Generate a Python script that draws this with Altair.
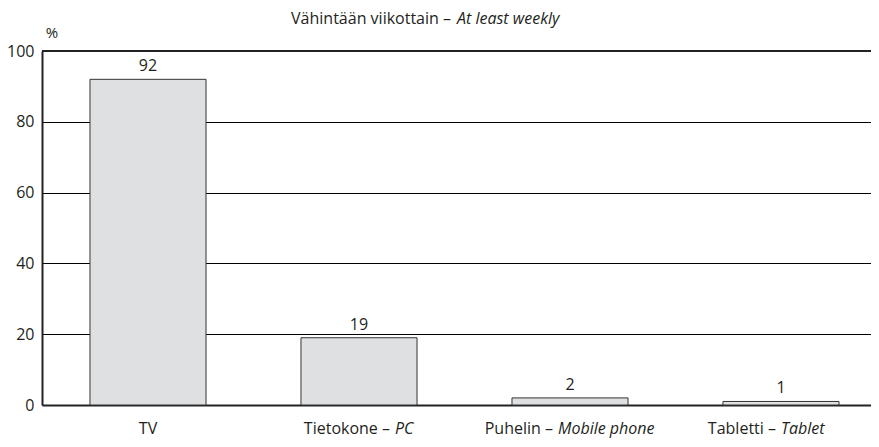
import altair as alt
import pandas as pd

categories = ["TV", "Tietokone – PC", "Puhelin – Mobile phone", "Tabletti – Tablet"]
label_regular = ["TV", "Tietokone –", "Puhelin –", "Tabletti –"]
label_italic = ["", "PC", "Mobile phone", "Tablet"]
values = [92, 19, 2, 1]
y_ticks = [0, 20, 40, 60, 80, 100]
title_regular = "Vähintään viikottain –"
title_italic = "At least weekly"
y_unit = "%"

df = pd.DataFrame({"cat": categories, "value": values,
                   "reg": label_regular, "ital": label_italic})

W, H = 829, 354
FONT = "Open Sans"
TXT = "#231f20"

x = alt.X("cat:N", sort=categories,
          scale=alt.Scale(paddingInner=0.45, paddingOuter=0.1895, align=0.6),
          axis=alt.Axis(title=None, labels=False, ticks=False, tickSize=0,
                        domain=True, domainColor="#222", domainWidth=2))
y = alt.Y("value:Q", scale=alt.Scale(domain=[0, 100], nice=False),
          axis=alt.Axis(title=None, values=y_ticks, grid=True, gridColor="#000",
                        gridWidth=1, domainColor="#222", domainWidth=2,
                        ticks=False, tickSize=0, labelPadding=8,
                        labelFontSize=16, labelFont=FONT, labelColor=TXT))

base = alt.Chart(df)
bars = base.mark_bar(fill="#dfe0e2", stroke="#333333", strokeWidth=1).encode(x=x, y=y)
vals = base.mark_text(baseline="alphabetic", dy=-8, fontSize=16, font=FONT,
                      color=TXT).encode(x=x, y=y, text="value:Q")
top_rule = base.mark_rule(color="#222", strokeWidth=2).encode(y=alt.datum(100))

one = pd.DataFrame({"a": [title_regular], "b": [title_italic], "u": [y_unit]})
title_reg = alt.Chart(one).mark_text(align="right", baseline="alphabetic", fontSize=16,
                                     font=FONT, color=TXT).encode(
    text="a:N", x=alt.value(409), y=alt.value(-27))
title_it = alt.Chart(one).mark_text(align="left", baseline="alphabetic", fontSize=16,
                                    font=FONT, fontStyle="italic", color=TXT).encode(
    text="b:N", x=alt.value(415), y=alt.value(-27))
unit = alt.Chart(one).mark_text(align="center", baseline="alphabetic", fontSize=15,
                                font=FONT, color=TXT).encode(
    text="u:N", x=alt.value(10), y=alt.value(-13))

# split offsets (pixels from band centre) between regular and italic label parts
split_dx = {"Tietokone – PC": 33, "Puhelin – Mobile phone": -15, "Tabletti – Tablet": -3}
label_layers = []
for c in categories:
    sub = base.transform_filter(alt.datum.cat == c)
    if c in split_dx:
        d = split_dx[c]
        label_layers.append(sub.mark_text(align="right", baseline="alphabetic", dx=d - 2,
                                          fontSize=16, font=FONT, color=TXT).encode(
            x=x, y=alt.value(H + 29), text="reg:N"))
        label_layers.append(sub.mark_text(align="left", baseline="alphabetic", dx=d + 3,
                                          fontSize=16, font=FONT, fontStyle="italic",
                                          color=TXT).encode(
            x=x, y=alt.value(H + 29), text="ital:N"))
    else:
        label_layers.append(sub.mark_text(align="center", baseline="alphabetic",
                                          fontSize=16, font=FONT, color=TXT).encode(
            x=x, y=alt.value(H + 29), text="reg:N"))

chart = alt.layer(bars, top_rule, vals, title_reg, title_it, unit, *label_layers).properties(
    width=W, height=H,
    autosize=alt.AutoSizeParams(type="none"),
    padding={"left": 34, "top": 43, "right": 0, "bottom": 34},
).configure_view(stroke=None)

chart.save("out.html", embed_options={"renderer": "svg", "actions": False})
